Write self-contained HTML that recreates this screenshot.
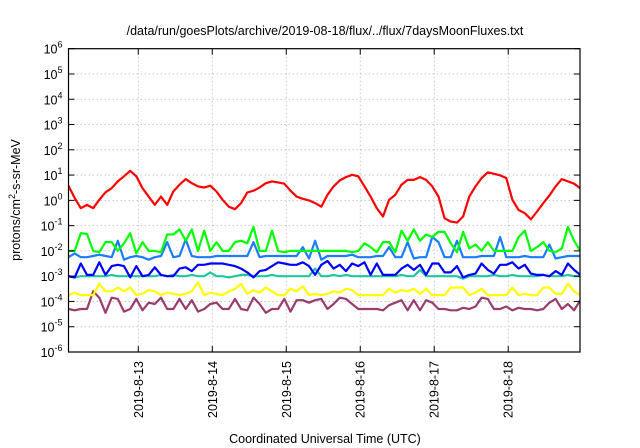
<!DOCTYPE html>
<html><head><meta charset="utf-8"><style>
html,body{margin:0;padding:0;background:#fff;width:640px;height:448px;overflow:hidden}
svg{display:block;font-family:"Liberation Sans",sans-serif}
</style></head><body>
<svg id="chart" width="640" height="448" viewBox="0 0 640 448" xmlns="http://www.w3.org/2000/svg">
<defs><clipPath id="plotclip"><rect x="68.5" y="48.7" width="511.5" height="303.3"/></clipPath></defs>
<text x="325" y="35" font-size="12.5" text-anchor="middle" fill="#000">/data/run/goesPlots/archive/2019-08-18/flux/../flux/7daysMoonFluxes.txt</text>
<text x="325" y="443" font-size="12.5" text-anchor="middle" fill="#000">Coordinated Universal Time (UTC)</text>
<text transform="translate(20,200) rotate(-90)" font-size="12.5" text-anchor="middle" fill="#000">protons/cm<tspan dy="-5" font-size="9">2</tspan><tspan dy="5">-s-sr-MeV</tspan></text>
<g id="grid"></g><g id="series" clip-path="url(#plotclip)"></g><g id="axes"></g>
</svg>
<script>
const dayTicks = [13,14,15,16,17,18];
const dayLabels = ["2019-8-13","2019-8-14","2019-8-15","2019-8-16","2019-8-17","2019-8-18"];
const decadeTicks = [-6,-5,-4,-3,-2,-1,0,1,2,3,4,5,6];
const startDay = 12.057;
const stepHours = 2;
const red = [0.58,0.09,-0.31,-0.18,-0.31,0.02,0.32,0.48,0.75,0.95,1.17,0.95,0.48,0.15,-0.18,0.15,-0.18,0.35,0.62,0.84,0.68,0.55,0.51,0.58,0.35,0.02,-0.25,-0.35,-0.11,0.31,0.38,0.51,0.68,0.75,0.71,0.66,0.38,0.15,0.06,0,-0.11,-0.25,0.22,0.55,0.79,0.92,1.01,0.95,0.55,0.15,-0.31,-0.64,0.02,0.22,0.62,0.81,0.81,0.92,0.81,0.55,0.15,-0.71,-0.84,-0.88,-0.64,0.15,0.55,0.88,1.11,1.05,0.99,0.88,0.02,-0.38,-0.51,-0.75,-0.44,-0.11,0.19,0.55,0.84,0.75,0.66,0.48];
const green = [-2,-2,-1.3,-1.33,-2,-2.05,-1.65,-1.65,-2,-1.7,-1.3,-2.1,-1.65,-2,-2,-2.05,-1.35,-1.35,-1.15,-1.6,-1.15,-2,-1.2,-2,-1.65,-2,-2,-1.65,-1.6,-1.7,-1.05,-2,-2,-1.2,-2,-2.05,-2,-2,-2,-2,-2,-2,-2,-2,-2,-2,-2.05,-2,-1.7,-1.85,-2.05,-1.65,-1.65,-2.05,-1.2,-1.6,-1.15,-1.6,-1.35,-1.45,-1.25,-1.25,-1.7,-2.05,-1.25,-1.9,-1.75,-2,-1.65,-2,-2,-2,-2,-1.45,-1.2,-2,-1.85,-1.65,-2,-2.05,-1.9,-1.05,-1.6,-2];
const lightBlue = [-2.25,-2.1,-2.25,-2.25,-2.2,-2.15,-2.2,-2.25,-1.6,-2.35,-2.25,-2.2,-2.25,-2.35,-2.25,-2.2,-1.65,-2.25,-2.2,-1.55,-2.2,-2.25,-2.25,-2.25,-2.2,-2.2,-2.2,-2.2,-2.2,-2.2,-1.65,-2.25,-2.2,-2.2,-2.2,-2.2,-2.2,-2.2,-1.85,-2.3,-1.6,-2.35,-2.2,-2.2,-2.2,-2.2,-2.15,-2.25,-2.25,-2.25,-2.2,-2.2,-1.85,-2.25,-2.25,-1.65,-2.3,-2.25,-2.25,-1.45,-1.65,-2.25,-2.25,-1.6,-2.25,-2.25,-2.25,-2.2,-2.2,-2.2,-1.45,-2.25,-2.25,-2.25,-2.2,-2.25,-2.25,-2.25,-1.75,-2.3,-2.25,-2.2,-2.2,-2.2];
const blue = [-3,-3.05,-2.5,-2.95,-2.95,-2.45,-2.95,-2.6,-2.55,-2.6,-3.05,-2.6,-3,-2.95,-2.65,-2.95,-3,-3,-2.7,-2.65,-2.8,-2.55,-2.55,-2.5,-2.5,-2.5,-2.55,-2.6,-2.7,-2.85,-3.05,-2.8,-2.75,-2.6,-2.45,-2.5,-2.55,-2.55,-2.45,-2.6,-2.95,-2.55,-2.4,-2.7,-2.55,-2.8,-2.5,-2.6,-2.45,-2.95,-2.5,-2.95,-2.95,-2.95,-2.7,-2.55,-2.75,-2.55,-2.95,-2.5,-2.5,-2.85,-2.85,-2.6,-3.05,-2.95,-2.9,-2.5,-2.75,-2.9,-2.55,-2.55,-2.45,-2.7,-2.55,-2.9,-2.95,-2.95,-3,-2.8,-2.95,-2.5,-2.75,-2.95];
const teal = [-3,-3.05,-3,-3,-3,-3,-3,-2.95,-3,-3,-3,-3,-3,-3,-3,-2.95,-3,-2.95,-3,-3,-2.95,-3,-3,-2.85,-3,-3,-3.05,-3,-2.95,-2.95,-3,-3,-3,-2.95,-3,-3,-3,-3,-3,-3,-2.7,-3,-3,-2.95,-3,-2.95,-3,-3,-3,-3,-3,-3,-3,-3,-2.95,-3,-3,-2.75,-3,-3,-3,-3,-3,-3,-3.1,-3,-3,-3,-3,-2.95,-3,-3,-2.95,-3,-3,-3,-3,-2.95,-3,-3,-3,-2.95,-3,-3];
const yellow = [-3.75,-3.65,-3.75,-3.75,-3.75,-3.3,-3.6,-3.6,-3.45,-3.6,-3.45,-3.75,-3.7,-3.55,-3.6,-3.75,-3.65,-3.7,-3.75,-3.7,-3.6,-3.25,-3.75,-3.65,-3.7,-3.75,-3.6,-3.5,-3.3,-3.7,-3.55,-3.65,-3.45,-3.6,-3.75,-3.75,-3.5,-3.6,-3.4,-3.75,-3.7,-3.75,-3.7,-3.6,-3.65,-3.5,-3.55,-3.75,-3.75,-3.75,-3.75,-3.75,-3.5,-3.65,-3.55,-3.6,-3.5,-3.7,-3.5,-3.75,-3.75,-3.75,-3.45,-3.45,-3.45,-3.75,-3.65,-3.5,-3.75,-3.75,-3.75,-3.75,-3.45,-3.75,-3.7,-3.75,-3.75,-3.45,-3.45,-3.7,-3.7,-3.3,-3.6,-3.75];
const purple = [-4.3,-4.35,-4.3,-4.3,-3.6,-3.85,-4.45,-3.85,-3.9,-4.4,-4.3,-3.9,-4.35,-4.05,-4.1,-3.85,-4.3,-4.3,-3.9,-4.3,-3.95,-4.4,-4.3,-4.1,-4.05,-4.3,-4.3,-3.9,-4.3,-4.35,-3.85,-4.1,-4.45,-4.3,-4.3,-3.9,-4.4,-3.95,-3.95,-4.05,-3.95,-3.9,-4.3,-4.1,-3.85,-3.9,-4.1,-4.3,-4.3,-4.3,-4.3,-4.35,-4.15,-4.05,-3.95,-4.35,-3.95,-4.35,-3.95,-4.05,-4.3,-4.3,-4.35,-4.35,-4.25,-4.3,-4.2,-3.85,-3.9,-4.3,-4.3,-4.2,-4.35,-4.25,-4.3,-4.3,-4.35,-4.3,-4.05,-3.9,-4.3,-4.1,-4.35,-3.95];

const L=68.5,R=580,T=48.7,B=352;
const X0=12.057,X1=18.97;
const sx=d=>L+(d-X0)/(X1-X0)*(R-L);
const sy=v=>T+(6-v)/12*(B-T);
const NS="http://www.w3.org/2000/svg";
function mk(tag,attrs,parent){const e=document.createElementNS(NS,tag);for(const k in attrs)e.setAttribute(k,attrs[k]);parent.appendChild(e);return e;}
const grid=document.getElementById('grid'),axes=document.getElementById('axes'),ser=document.getElementById('series');
decadeTicks.forEach(v=>{
  const y=sy(v);
  if(v>-6&&v<6){const g=mk('line',{x1:L,x2:R,y1:y,y2:y,stroke:'#bbb','stroke-width':0.8,'stroke-dasharray':'1.5,2.5'},grid);
  
  }
  mk('line',{x1:L,x2:L+6,y1:y,y2:y,stroke:'#000','stroke-width':1},axes);
  mk('line',{x1:R-6,x2:R,y1:y,y2:y,stroke:'#000','stroke-width':1},axes);
  const t=mk('text',{x:L-6,y:y+5,'font-size':12.5,'text-anchor':'end',fill:'#000'},axes);
  
  
  t.textContent='10';
  const s=mk('tspan',{dy:-6,'font-size':9},t);s.textContent=String(v);
});
dayTicks.forEach((d,i)=>{
  const x=sx(d);
  const g=mk('line',{x1:x,x2:x,y1:T,y2:B,stroke:'#bbb','stroke-width':0.8,'stroke-dasharray':'1.5,2.5'},grid);
  
  
  mk('line',{x1:x,x2:x,y1:B,y2:B-6,stroke:'#000','stroke-width':1},axes);
  mk('line',{x1:x,x2:x,y1:T,y2:T+6,stroke:'#000','stroke-width':1},axes);
  const t=mk('text',{transform:`translate(${x+4.5},${B+9}) rotate(-90)`,'font-size':12.5,'text-anchor':'end',fill:'#000'},axes);
  
  
  t.textContent=dayLabels[i];
});
const frame=mk('rect',{x:L,y:T,width:R-L,height:B-T,fill:'none',stroke:'#000','stroke-width':1.2},axes);


const list=[["purple-flux",purple,"#9a3c6e"],["yellow-flux",yellow,"#ffff00"],["teal-flux",teal,"#1fc7a0"],["blue-flux",blue,"#0000ff"],["lightblue-flux",lightBlue,"#1a7dff"],["green-flux",green,"#00ff00"],["red-flux",red,"#ff0000"]];
list.forEach(([name,arr,col])=>{
  const pts=arr.map((v,i)=>sx(startDay+i*stepHours/24).toFixed(1)+','+sy(v).toFixed(1)).join(' ');
  const p=mk('polyline',{points:pts,fill:'none',stroke:col,'stroke-width':2.2,'stroke-linejoin':'round'},ser);
  
  
});
</script>
</body></html>
